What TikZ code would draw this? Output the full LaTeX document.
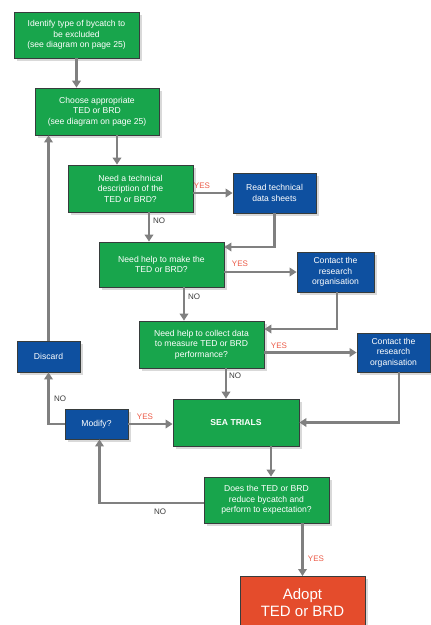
\documentclass[tikz,border=0pt]{standalone}
\usepackage{fontspec}
\setmainfont{Liberation Sans}
\usetikzlibrary{arrows.meta,shadows}
\definecolor{boxgreen}{RGB}{24,165,76}
\definecolor{boxblue}{RGB}{14,80,160}
\definecolor{boxred}{RGB}{228,76,44}
\definecolor{arrgray}{RGB}{128,128,128}
\definecolor{yesred}{RGB}{235,90,70}
\definecolor{nogray}{RGB}{60,60,60}
\begin{document}
\begin{tikzpicture}[x=1pt,y=-1pt,
  basebox/.style={rectangle, draw={rgb,255:red,55;green,60;blue,60}, line width=0.8pt, text=white, align=center,
    font=\fontsize{8.6}{10.5}\selectfont, inner sep=1pt,
    drop shadow={opacity=0.3, shadow xshift=3pt, shadow yshift=-3pt}},
  gbox/.style={basebox, fill=boxgreen},
  bbox/.style={basebox, fill=boxblue},
  rbox/.style={basebox, fill=boxred, font=\fontsize{15}{17}\selectfont},
  arr/.style={draw=arrgray, line width=2.8pt, -{Triangle[length=7pt,width=8.5pt]}},
  yeslab/.style={text=yesred, font=\fontsize{8}{9}\selectfont, inner sep=0pt},
  nolab/.style={text=nogray, font=\fontsize{8}{9}\selectfont, inner sep=0pt}]
\useasboundingbox (0,0) rectangle (431,625);
\clip (0,0) rectangle (431,625);

\node[gbox, minimum width=125pt, minimum height=46pt] (b1) at (76.5,35) {Identify type of bycatch to\\be excluded\\(see diagram on page 25)};
\node[gbox, minimum width=124pt, minimum height=47pt] (b2) at (97,111.5) {Choose appropriate\\TED or BRD\\(see diagram on page 25)};
\node[gbox, minimum width=125pt, minimum height=47pt] (b3) at (130.5,188.5) {Need a technical\\description of the\\TED or BRD?};
\node[bbox, minimum width=83pt, minimum height=40pt] (read) at (274.5,193) {Read technical\\data sheets};
\node[gbox, minimum width=125pt, minimum height=45pt] (b4) at (161.5,264.5) {Need help to make the\\TED or BRD?};
\node[bbox, minimum width=77pt, minimum height=40pt] (c1) at (335.5,272) {Contact the\\research\\organisation};
\node[gbox, minimum width=125pt, minimum height=47pt] (b5) at (201.5,344.5) {Need help to collect data\\to measure TED or BRD\\performance?};
\node[bbox, minimum width=73pt, minimum height=39pt] (c2) at (393.5,352.5) {Contact the\\research\\organisation};
\node[bbox, minimum width=63pt, minimum height=31pt] (disc) at (48.5,356.5) {Discard};
\node[gbox, minimum width=126pt, minimum height=47pt, font=\bfseries\fontsize{8.6}{10.5}\selectfont] (sea) at (236,422.5) {SEA TRIALS};
\node[bbox, minimum width=63pt, minimum height=30pt] (mod) at (96.5,424) {Modify?};
\node[gbox, minimum width=125pt, minimum height=46pt] (b7) at (266.5,500) {Does the TED or BRD\\reduce bycatch and\\perform to expectation?};
\node[rbox, minimum width=125pt, anchor=north] (adopt) at (302.5,576) {\parbox[c][66pt][t]{118pt}{\centering\vspace*{11pt}Adopt\\TED or BRD}};

% connectors
\draw[arr] (b1.south) -- (b1.south |- b2.north);
\draw[arr] ([xshift=20pt]b2.south) -- ([xshift=20pt]b2.south |- b3.north);
\draw[arr] (b3.east |- read.west) -- (read.west);
\draw[arr] ([xshift=18.5pt]b3.south) -- ([xshift=18.5pt]b3.south |- b4.north);
\draw[arr] (read.south) |- ([yshift=17.5pt]b4.east);
\draw[arr] (b4.east |- c1.west) -- (c1.west);
\draw[arr] ([xshift=22.5pt]b4.south) -- ([xshift=22.5pt]b4.south |- b5.north);
\draw[arr] ([xshift=1.5pt]c1.south) |- ([yshift=15.5pt]b5.east);
\draw[arr] (b5.east |- c2.west) -- (c2.west);
\draw[arr] ([xshift=24.5pt]b5.south) -- ([xshift=24.5pt]b5.south |- sea.north);
\draw[arr] ([xshift=5.5pt]c2.south) |- (sea.east);
\draw[arr] (mod.east) -- (mod.east -| sea.west);
\draw[arr] (mod.west) -| (disc.south);
\draw[arr] (disc.north) -- (disc.north |- b2.south);
\draw[arr] ([xshift=35pt]sea.south) -- ([xshift=35pt]sea.south |- b7.north);
\draw[arr] ([yshift=-3pt]b7.west) -| ([xshift=3pt]mod.south);
\draw[arr] (b7.south -| adopt.north) -- (adopt.north);

% labels
\node[yeslab] (y1) at (202,186) {YES};
\node[nolab, anchor=west] (n1) at (153,221) {NO};
\node[yeslab] (y2) at (240,264) {YES};
\node[nolab] (n2) at (194,297) {NO};
\node[yeslab] (y3) at (279,346) {YES};
\node[nolab] (n3) at (235,376) {NO};
\node[nolab] (n4) at (60,399) {NO};
\node[yeslab] (y4) at (145,417) {YES};
\node[nolab] (n5) at (160,512) {NO};
\node[yeslab] (y5) at (316,559) {YES};
\end{tikzpicture}
\end{document}
